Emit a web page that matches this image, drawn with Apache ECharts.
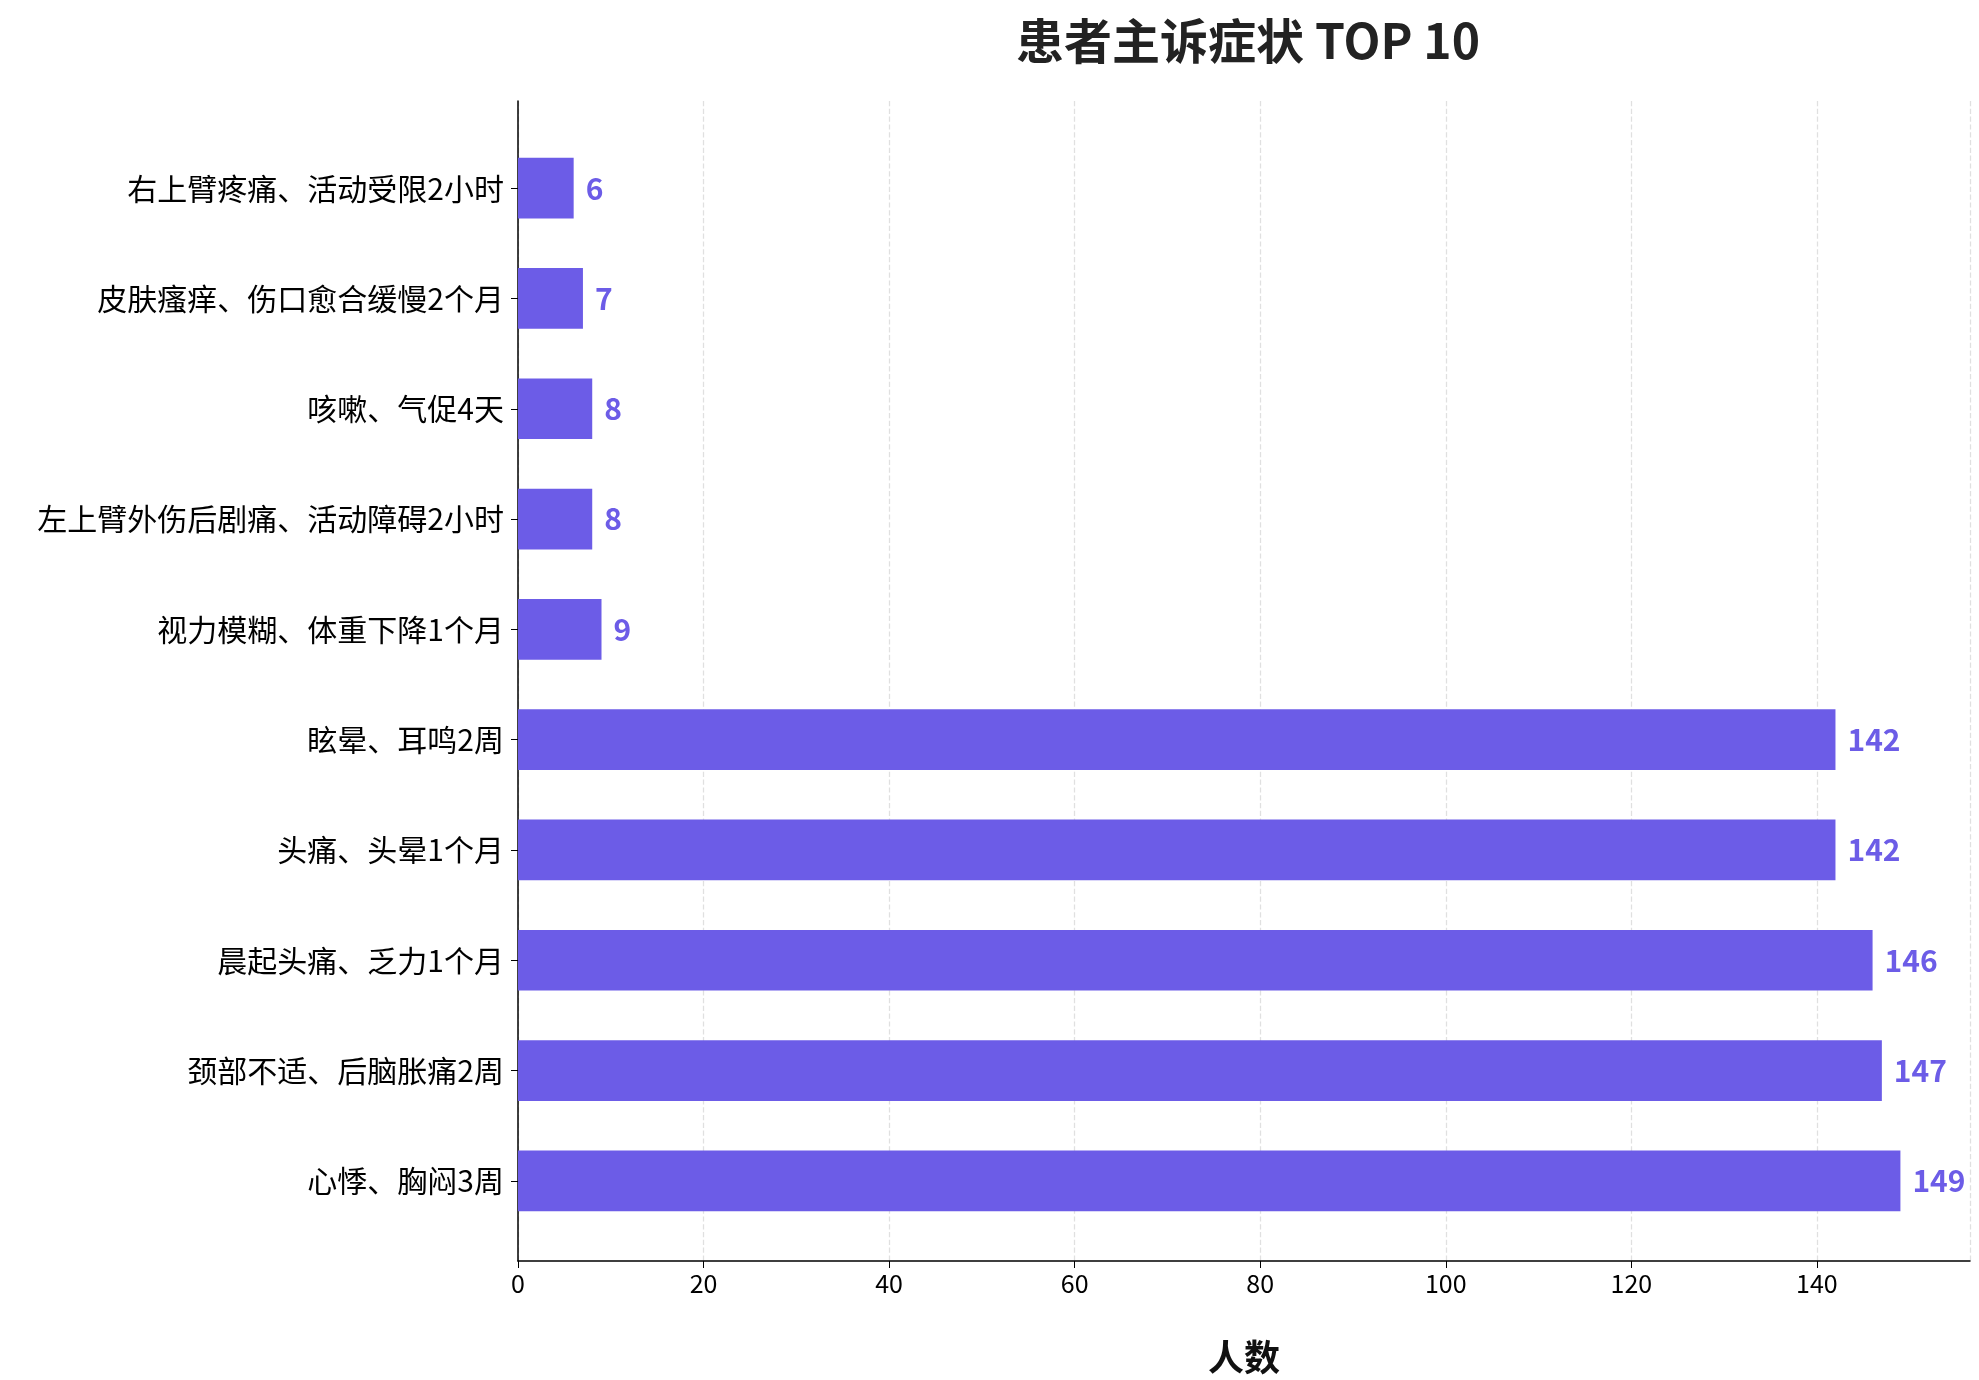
<!DOCTYPE html>
<html><head><meta charset="utf-8">
<script src="https://cdn.jsdelivr.net/npm/echarts@6/dist/echarts.min.js"></script>
<style>html,body{margin:0;background:#fff}#c{width:1979px;height:1380px}</style>
</head><body><div id="c"></div>
<script>
const categories = ['心悸、胸闷3周','颈部不适、后脑胀痛2周','晨起头痛、乏力1个月','头痛、头晕1个月','眩晕、耳鸣2周','视力模糊、体重下降1个月','左上臂外伤后剧痛、活动障碍2小时','咳嗽、气促4天','皮肤瘙痒、伤口愈合缓慢2个月','右上臂疼痛、活动受限2小时'];
const values = [149,147,146,142,142,9,8,8,7,6];
const xTicks = {min:0, max:156.5, interval:20};
const font = '"Noto Sans CJK SC", sans-serif';
const chart = echarts.init(document.getElementById('c'));
chart.setOption({
  animation:false,
  title:{text:'患者主诉症状 TOP 10',left:1243,top:12,textAlign:'center',textStyle:{fontFamily:font,fontSize:48,fontWeight:'bold',color:'#222'}},
  grid:[{left:518,right:9,top:133,bottom:144},{left:518,right:9,top:101,bottom:115}],
  xAxis:[
    {gridIndex:0,type:'value',min:xTicks.min,max:xTicks.max,interval:xTicks.interval,show:false,splitLine:{show:false}},
    {gridIndex:1,type:'value',min:xTicks.min,max:xTicks.max,interval:xTicks.interval,name:'人数',nameLocation:'middle',nameGap:78,
    nameTextStyle:{fontFamily:font,fontSize:36,fontWeight:'bold',color:'#111'},
    axisLine:{show:true,lineStyle:{color:'#000',width:1.5}},axisTick:{show:true,length:7,lineStyle:{color:'#000'}},
    axisLabel:{fontFamily:font,fontSize:25,color:'#000',margin:10,showMaxLabel:false},
    splitLine:{show:true,lineStyle:{type:'dashed',color:'#e0e0e0',width:1.3}}}],
  yAxis:[
    {gridIndex:0,type:'category',data:categories,
    axisLine:{show:false},axisTick:{show:true,alignWithLabel:true,length:7,lineStyle:{color:'#000'}},
    axisLabel:{fontFamily:font,fontSize:30,color:'#000',margin:14}},
    {gridIndex:1,type:'value',min:0,max:1,axisLabel:{show:false},axisTick:{show:false},splitLine:{show:false},
    axisLine:{show:true,lineStyle:{color:'#000',width:1.5}}}],
  series:[{type:'bar',xAxisIndex:0,yAxisIndex:0,data:values,barWidth:'55%',itemStyle:{color:'#6c5ce7'},
    label:{show:true,position:'right',distance:12,fontFamily:font,fontSize:30,fontWeight:'bold',color:'#6c5ce7'}}]
});
</script></body></html>
